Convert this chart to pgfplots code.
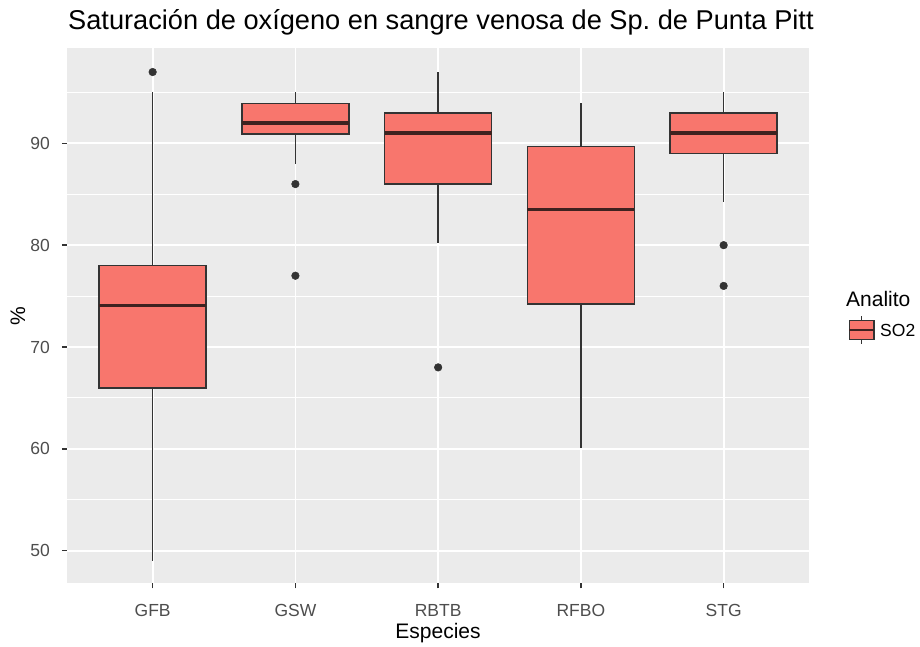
\documentclass[border=0pt]{standalone}
\usepackage{fontspec}
\setmainfont{Liberation Sans}
\usepackage{pgfplots}
\pgfplotsset{compat=1.18}
\usepgfplotslibrary{statistics}

\definecolor{boxfill}{HTML}{F8766D}
\definecolor{gray20}{HTML}{333333}
\definecolor{gray30}{HTML}{4D4D4D}
\definecolor{panelbg}{HTML}{EBEBEB}
\definecolor{medcol}{HTML}{3E2220}

\begin{document}
\frenchspacing
\begin{tikzpicture}[x=1pt,y=1pt]
\useasboundingbox (0,0) rectangle (920,646);
\begin{axis}[
  at={(67pt,62.7pt)}, anchor=south west,
  scale only axis, width=742.3pt, height=535pt,
  xmin=0.4, xmax=5.6, ymin=46.8, ymax=99.33,
  xtick={1,2,3,4,5}, xticklabels={GFB,GSW,RBTB,RFBO,STG},
  ytick={50,60,70,80,90},
  minor ytick={55,65,75,85,95},
  /pgf/number format/assume math mode=true,
  xmajorgrids, ymajorgrids, yminorgrids,
  major grid style={white, line width=1.8pt},
  minor grid style={white, line width=0.9pt},
  axis background/.style={fill=panelbg},
  axis line style={draw=none},
  xtick pos=bottom, ytick pos=left,
  tick align=outside, major tick length=5pt, minor tick length=0pt,
  tick style={gray20, line width=1.4pt},
  ticklabel style={font=\fontsize{17.5}{20}\selectfont, text=gray30},
  xticklabel style={anchor=base, inner sep=0pt, yshift=-28pt},
  yticklabel style={anchor=east, inner sep=0pt, xshift=-12pt},
  boxplot/draw direction=y,
  boxplot/box extend=0.75,
  boxplot/whisker extend=0,
  boxplot/every box/.style={draw=gray20, fill=boxfill, line width=1.6pt},
  boxplot/every whisker/.style={draw=gray20, line width=1.6pt},
  boxplot/every median/.style={draw=medcol, line width=3.4pt},
  every axis plot/.append style={mark=*, mark size=3.8pt,
    mark options={draw=gray20, fill=gray20, line width=0.5pt}},
]
% GFB
\addplot[boxplot prepared={draw position=1, lower whisker=49, lower quartile=66,
  median=74.1, upper quartile=78, upper whisker=95}]
  table[row sep=\\, y index=0] {data\\ 97\\};
% GSW
\addplot[boxplot prepared={draw position=2, lower whisker=88, lower quartile=90.9,
  median=92, upper quartile=93.9, upper whisker=95}]
  table[row sep=\\, y index=0] {data\\ 86\\ 77\\};
% RBTB
\addplot[boxplot prepared={draw position=3, lower whisker=80.2, lower quartile=86,
  median=91, upper quartile=93, upper whisker=97}]
  table[row sep=\\, y index=0] {data\\ 68\\};
% RFBO
\addplot[boxplot prepared={draw position=4, lower whisker=60.1, lower quartile=74.2,
  median=83.5, upper quartile=89.7, upper whisker=94}]
  coordinates {};
% STG
\addplot[boxplot prepared={draw position=5, lower whisker=84.2, lower quartile=89,
  median=91, upper quartile=93, upper whisker=95}]
  table[row sep=\\, y index=0] {data\\ 80\\ 76\\};
\end{axis}

% titles
\node[anchor=base west, inner sep=0pt, font=\fontsize{27.2}{32}\selectfont]
  at (68,616) {Saturación de oxígeno en sangre venosa de Sp.\ de Punta Pitt};
\node[anchor=base, inner sep=0pt, font=\fontsize{21}{25}\selectfont]
  at (438,7.7) {Especies};
\node[anchor=base, rotate=90, inner sep=0pt, font=\fontsize{21}{25}\selectfont]
  at (25,330.2) {\%};

% legend
\node[anchor=base west, inner sep=0pt, font=\fontsize{21}{25}\selectfont]
  at (846,339.3) {Analito};
\draw[gray20, line width=1.5pt] (861.7,325.3) -- (861.7,330.5);
\draw[gray20, line width=1.5pt] (861.7,306.7) -- (861.7,302.5);
\draw[gray20, fill=boxfill, line width=1.5pt] (849.3,306.7) rectangle (874,325.3);
\draw[medcol, line width=2.8pt] (849.3,316) -- (874,316);
\node[anchor=west, inner sep=0pt, font=\fontsize{17.5}{20}\selectfont]
  at (880,316) {SO2};
\end{tikzpicture}
\end{document}
